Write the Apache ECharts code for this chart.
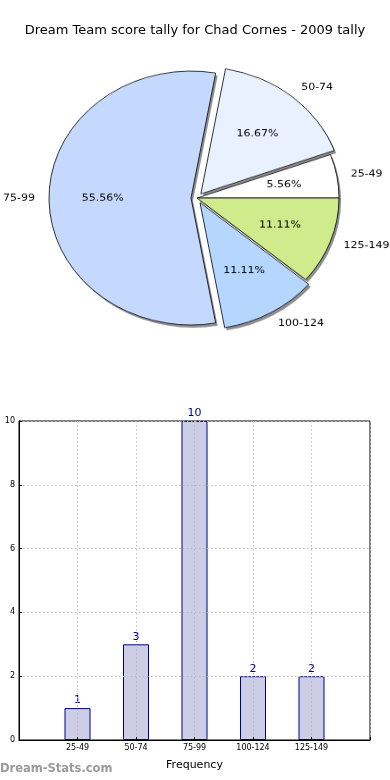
<!DOCTYPE html>
<html>
<head>
<meta charset="utf-8">
<script src="https://cdn.jsdelivr.net/npm/echarts@6/dist/echarts.min.js"></script>
<style>
html,body{margin:0;padding:0;background:#fff;}
#wrap{position:relative;width:390px;height:780px;overflow:hidden;}
#c{position:absolute;left:0;top:0;width:390px;height:780px;}
#p{position:absolute;left:0;top:0;width:390px;height:400px;transform:scaleY(0.894);transform-origin:0 198px;}
</style>
</head>
<body>
<div id="wrap"><div id="c"></div><div id="p"></div></div>
<script>
var titleText = 'Dream Team score tally for Chad Cornes - 2009 tally';
var categories = ['25-49', '50-74', '75-99', '100-124', '125-149'];
var counts = [1, 3, 10, 2, 2];
var sliceColors = ['#ffffff', '#eaf1fe', '#c5d9ff', '#b4d6ff', '#d0eb8c'];
var exploded = [false, true, true, true, false];
var yTicks = [0, 2, 4, 6, 8, 10];
var xName = 'Frequency';
var yName = 'Number of Games';
var watermark = 'Dream-Stats.com';

var FONT = 'DejaVu Sans';
var CX = 197, CY = 198, R = 142, OFF = 6;
var total = counts.reduce(function (a, b) { return a + b; }, 0);

function pieData(colorFn) {
  return categories.map(function (c, i) {
    return {
      name: c, value: counts[i], selected: exploded[i],
      itemStyle: { color: colorFn(i) }
    };
  });
}

var chart = echarts.init(document.getElementById('c'), null, { renderer: 'canvas' });
chart.setOption({
  animation: false,
  backgroundColor: '#fff',
  textStyle: { fontFamily: FONT },
  title: {
    text: titleText, left: 'center', top: 19,
    textStyle: { fontFamily: FONT, fontSize: 13, fontWeight: 'normal', color: '#000' }
  },
  graphic: [{
    type: 'text', left: 0, top: 763,
    style: { text: watermark, fontFamily: FONT, fontSize: 11.5, fontWeight: 'bold', fill: '#9a9a9a' }
  }],
  grid: {
    left: 19, right: 20, top: 421, bottom: 40,
    outerBoundsMode: 'none', containLabel: false,
    show: true, borderColor: '#000', borderWidth: 1, backgroundColor: 'transparent'
  },
  xAxis: {
    type: 'category',
    data: [''].concat(categories).concat(['']),
    boundaryGap: false,
    z: 5,
    name: xName, nameLocation: 'middle', nameGap: 20,
    nameTextStyle: { fontFamily: FONT, fontSize: 11, color: '#000' },
    axisLine: { lineStyle: { color: '#000', width: 1 } },
    axisTick: { show: true, inside: true, length: 3, interval: 0, lineStyle: { color: '#000' } },
    axisLabel: { interval: 0, fontFamily: FONT, fontSize: 8, color: '#000', margin: 4 },
    splitLine: { show: true, interval: 0, lineStyle: { color: '#b8b8b8', type: [1.5, 2.5], width: 1 } }
  },
  yAxis: {
    type: 'value', min: 0, max: 10, interval: 2,
    z: 5,
    name: yName, nameLocation: 'middle', nameGap: 18, nameMoveOverlap: false,
    nameTextStyle: { fontFamily: FONT, fontSize: 10, color: '#000' },
    axisLine: { show: true, lineStyle: { color: '#000', width: 1 } },
    axisTick: { show: true, inside: true, length: 3, lineStyle: { color: '#000' } },
    axisLabel: { fontFamily: FONT, fontSize: 8, color: '#000', margin: 4 },
    splitLine: { show: true, lineStyle: { color: '#b8b8b8', type: [1.5, 2.5], width: 1 } }
  },
  series: [
    {
      type: 'bar', z: 2,
      data: [null].concat(counts).concat([null]),
      barWidth: 26,
      itemStyle: { color: '#cdcde6', borderColor: '#00008b', borderWidth: 1 },
      label: { show: true, position: 'top', distance: 2, fontFamily: FONT, fontSize: 11, color: '#000080' }
    }
  ]
});

var pie = echarts.init(document.getElementById('p'), null, { renderer: 'canvas' });
pie.setOption({
  animation: false,
  backgroundColor: 'transparent',
  textStyle: { fontFamily: FONT },
  series: [
    {
      type: 'pie', silent: true, z: 1,
      center: [CX + 2, CY + 3], radius: [0, R],
      startAngle: 0, clockwise: false,
      selectedMode: 'multiple', selectedOffset: OFF,
      label: { show: false }, labelLine: { show: false },
      itemStyle: { borderWidth: 0 },
      select: { itemStyle: { borderWidth: 0 } },
      data: pieData(function () { return '#8f8f8f'; })
    },
    {
      type: 'pie', silent: true, z: 2,
      center: [CX, CY], radius: [0, R],
      startAngle: 0, clockwise: false,
      selectedMode: 'multiple', selectedOffset: OFF,
      itemStyle: { borderColor: '#000', borderWidth: 0.8 },
      select: { itemStyle: { borderColor: '#000', borderWidth: 0.8 } },
      label: {
        show: true, position: 'outside', formatter: '{b}', overflow: 'none',
        fontFamily: FONT, fontSize: 11, color: '#000', distanceToLabelLine: 0
      },
      labelLine: { show: false, length: 14, length2: 0 },
      data: pieData(function (i) { return sliceColors[i]; })
    },
    {
      type: 'pie', silent: true, z: 3,
      center: [CX, CY], radius: [R * 0.2, R],
      startAngle: 0, clockwise: false,
      selectedMode: 'multiple', selectedOffset: OFF,
      itemStyle: { color: 'rgba(0,0,0,0)', borderWidth: 0 },
      select: { itemStyle: { color: 'rgba(0,0,0,0)', borderWidth: 0 } },
      label: {
        show: true, position: 'inside',
        formatter: function (p) { return (p.value / total * 100).toFixed(2) + '%'; },
        fontFamily: FONT, fontSize: 11, color: '#000'
      },
      labelLine: { show: false },
      data: pieData(function () { return 'rgba(0,0,0,0)'; })
    }
  ]
});
</script>
</body>
</html>
